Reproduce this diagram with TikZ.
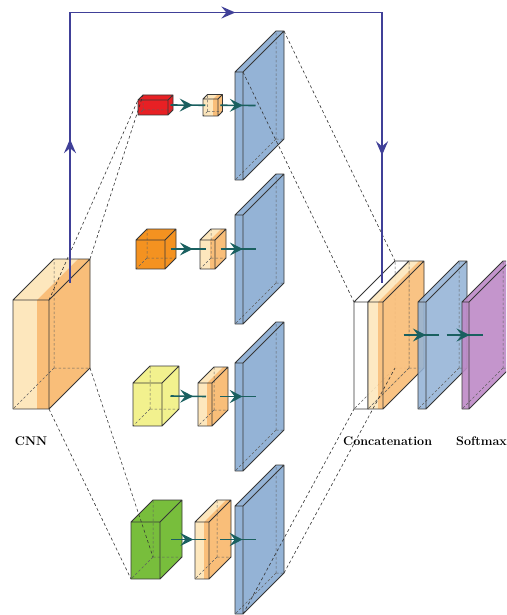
\documentclass[tikz,border=0pt]{standalone}
\usetikzlibrary{arrows.meta,decorations.markings}

\definecolor{cnnlight}{RGB}{253,231,189}
\definecolor{cnnband}{RGB}{249,190,121}
\definecolor{redc}{RGB}{232,32,36}
\definecolor{orangec}{RGB}{244,146,32}
\definecolor{yellowc}{RGB}{242,241,142}
\definecolor{greenc}{RGB}{120,190,60}
\definecolor{bluec}{RGB}{148,179,214}
\definecolor{purplec}{RGB}{190,138,199}
\definecolor{edgec}{RGB}{55,55,55}
\definecolor{tealc}{RGB}{26,96,96}
\definecolor{skipc}{RGB}{64,64,152}

\tikzset{
  edge/.style={draw=edgec, line width=0.75pt, line join=round},
  hidden/.style={draw=edgec!80, line width=0.5pt, dash pattern=on 2.5pt off 2pt},
  conn/.style={draw=black!80, line width=0.6pt, dash pattern=on 3pt off 2.5pt},
  flow/.style={draw=tealc, line width=1.6pt,
    postaction={decorate},
    decoration={markings, mark=at position 0.64 with {\arrow{Stealth[length=13pt,width=13pt,inset=5pt]}}}},
  skip/.style={draw=skipc, line width=1.8pt, line cap=rect,
    postaction={decorate},
    decoration={markings, mark=at position 0.53 with {\arrow{Stealth[length=14pt,width=12pt,inset=5pt]}}}},
  lbl/.style={font=\fontsize{12.5}{14}\selectfont\bfseries, inner sep=0pt},
  % face fills
  fLight/.style={fill=cnnlight},
  fBand/.style={fill=cnnband},
  fLightT/.style={fill=cnnlight, fill opacity=0.9},
  fBandT/.style={fill=cnnband, fill opacity=0.92},
  fRed/.style={fill=redc},
  fOrange/.style={fill=orangec},
  fYellow/.style={fill=yellowc},
  fGreen/.style={fill=greenc},
  fBlue/.style={fill=bluec},
  fBlueT/.style={fill=bluec, fill opacity=0.88},
  fPurpleT/.style={fill=purplec, fill opacity=0.9},
  fWhite/.style={fill=white},
}

% A box seen in oblique view: name, left x, top y of the front face,
% width, height, depth, face style, band style, band width
\newcommand{\layerbox}[9]{%
  \coordinate (#1-nNW) at (#2,#3);
  \coordinate (#1-nNE) at (#2+#4,#3);
  \coordinate (#1-nSW) at (#2,#3+#5);
  \coordinate (#1-nSE) at (#2+#4,#3+#5);
  \coordinate (#1-fNW) at (#2+#6,#3-#6);
  \coordinate (#1-fNE) at (#2+#4+#6,#3-#6);
  \coordinate (#1-fSW) at (#2+#6,#3+#5-#6);
  \coordinate (#1-fSE) at (#2+#4+#6,#3+#5-#6);
  \coordinate (#1-nBT) at (#2+#4-#9,#3);
  \coordinate (#1-nBB) at (#2+#4-#9,#3+#5);
  \coordinate (#1-fBT) at (#2+#4-#9+#6,#3-#6);
  \coordinate (#1-west) at (#2+#6/2,#3+#5/2-#6/2);
  \coordinate (#1-east) at (#2+#4+#6/2,#3+#5/2-#6/2);
  \fill[#7] (#1-nNW) -- (#1-nBT) -- (#1-nBB) -- (#1-nSW) -- cycle;
  \fill[#8] (#1-nBT) -- (#1-nNE) -- (#1-nSE) -- (#1-nBB) -- cycle;
  \fill[#7] (#1-nNW) -- (#1-fNW) -- (#1-fBT) -- (#1-nBT) -- cycle;
  \fill[#8] (#1-nBT) -- (#1-fBT) -- (#1-fNE) -- (#1-nNE) -- cycle;
  \fill[#8] (#1-nNE) -- (#1-fNE) -- (#1-fSE) -- (#1-nSE) -- cycle;
  \draw[hidden] (#1-fSW) -- (#1-fNW) (#1-fSW) -- (#1-fSE) (#1-fSW) -- (#1-nSW);
  \draw[edge] (#1-nNW) rectangle (#1-nSE)
    (#1-nNW) -- (#1-fNW) -- (#1-fNE) -- (#1-fSE) -- (#1-nSE)
    (#1-nNE) -- (#1-fNE);
}

\begin{document}
\begin{tikzpicture}[x=1pt,y=-1pt]
\useasboundingbox (0,0) rectangle (506,615);
\clip (0,0) rectangle (506,615);

% backbone
\layerbox{cnn}{13}{300}{36}{109}{41}{fLight}{fBand}{12}

% four branches
\layerbox{red}{138}{100}{30}{15}{5}{fRed}{fRed}{0}
\layerbox{pa}{203}{99}{15}{17}{4.5}{fLight}{fBand}{5}
\layerbox{ba}{235}{72}{8}{108}{41}{fBlue}{fBlue}{0}

\layerbox{org}{136}{240}{29}{29}{11}{fOrange}{fOrange}{0}
\layerbox{pb}{200}{240}{15}{29}{11}{fLight}{fBand}{5}
\layerbox{bb}{235}{215}{8}{109}{41}{fBlue}{fBlue}{0}

\layerbox{yel}{133}{383}{29}{43}{17}{fYellow}{fYellow}{0}
\layerbox{pc}{198}{383}{14}{43}{16}{fLight}{fBand}{5}
\layerbox{bc}{235}{363}{8}{108}{41}{fBlue}{fBlue}{0}

\layerbox{grn}{131}{522}{29}{57}{22}{fGreen}{fGreen}{0}
\layerbox{pd}{195}{522}{14}{57}{22}{fLight}{fBand}{5}
\layerbox{bd}{235}{506}{8}{108}{41}{fBlue}{fBlue}{0}

% fusion head
\layerbox{wht}{354}{302}{14}{107}{41}{fWhite}{fWhite}{0}
\layerbox{cat}{368}{302}{15}{107}{41}{fLightT}{fBandT}{5}
\layerbox{fc}{418}{302}{8}{107}{41}{fBlueT}{fBlueT}{0}
\layerbox{sm}{462}{302}{7}{107}{41}{fPurpleT}{fPurpleT}{0}

% projection guides
\draw[conn] (cnn-nNE) -- (red-nNW);
\draw[conn] (cnn-fNE) -- (red-fNW);
\draw[conn] (cnn-nSE) -- (grn-nSW);
\draw[conn] (cnn-fSE) -- (grn-fSW);
\draw[conn] (ba-nNE) -- (wht-nNW);
\draw[conn] (ba-fNE) -- (wht-fNW);
\draw[conn] (bd-nSE) -- (wht-nSW);
\draw[conn] (bd-fSE) -- (wht-fSW);

% data flow
\draw[flow] (red-east) -- (pa-west);
\draw[flow] (pa-east) -- (ba-west);
\draw[flow] (org-east) -- (pb-west);
\draw[flow] (pb-east) -- (bb-west);
\draw[flow] (yel-east) -- (pc-west);
\draw[flow] (pc-east) -- (bc-west);
\draw[flow] (grn-east) -- (pd-west);
\draw[flow] (pd-east) -- (bd-west);
\draw[flow] (cat-east) -- (fc-west);
\draw[flow] (fc-east) -- (sm-west);

% skip connection
\coordinate (skipA) at (70,282);
\coordinate (skipB) at (70,12.5);
\coordinate (skipC) at (382,12.5);
\coordinate (skipD) at (382,282);
\draw[skip] (skipA) -- (skipB);
\draw[skip] (skipB) -- (skipC);
\draw[skip] (skipC) -- (skipD);

% captions
\node[lbl, anchor=base] (lcnn) at (31,445) {CNN};
\node[lbl, anchor=base west] (lcat) at (343,445) {Concatenation};
\node[lbl, anchor=base west] (lsm) at (456,445) {Softmax};
\end{tikzpicture}
\end{document}
